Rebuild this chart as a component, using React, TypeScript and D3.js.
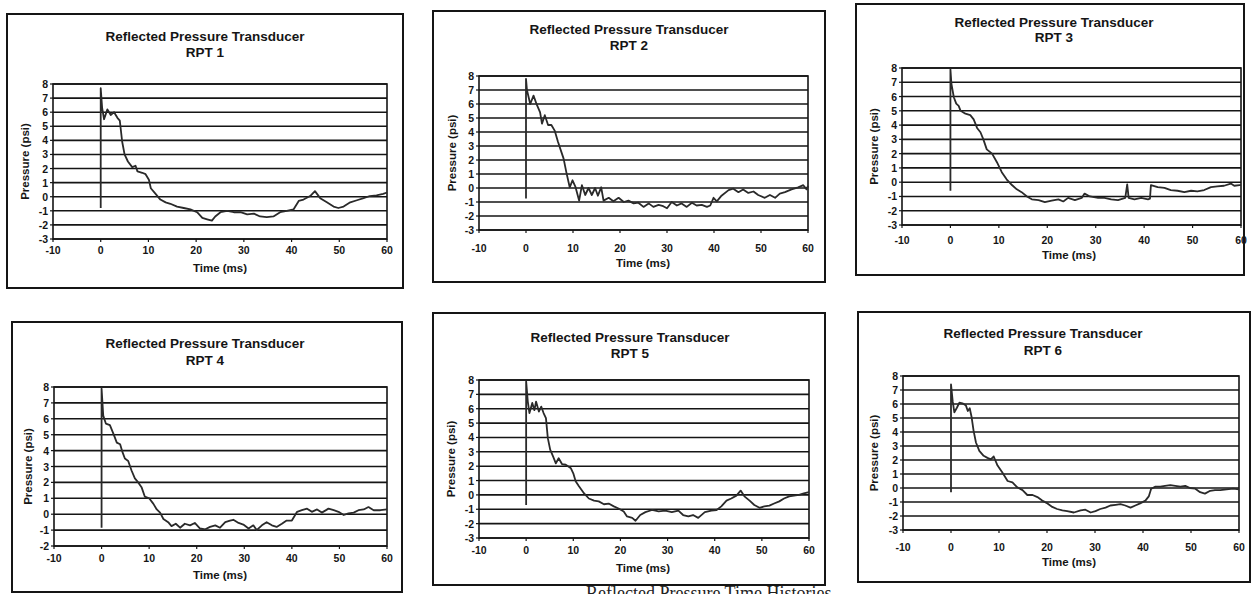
import React from "react";
import * as d3 from "d3";

// ---------- data (time ms, pressure psi) ----------
const xTicks = [-10, 0, 10, 20, 30, 40, 50, 60];
const panelTitles = ["RPT 1", "RPT 2", "RPT 3", "RPT 4", "RPT 5", "RPT 6"];
const yMins = [-3, -3, -3, -2, -3, -3];
const yMax = 8;

const rpt1: [number, number][] = [
  [0, -0.8], [0, 7.7], [0.3, 6.3], [0.7, 5.5], [1.4, 6.2], [2.1, 5.8], [2.8, 6.0], [3.5, 5.6], [4.0, 5.4],
  [4.5, 3.9], [5.0, 3.0], [5.7, 2.5], [6.6, 2.1], [7.3, 2.2], [7.7, 1.8], [8.7, 1.7], [9.4, 1.6], [10.1, 1.2],
  [10.5, 0.6], [11.5, 0.2], [12.5, -0.2], [13.6, -0.4], [14.6, -0.5], [16.0, -0.7], [17.4, -0.8], [18.8, -0.9],
  [20.2, -1.1], [21.3, -1.5], [22.3, -1.6], [23.3, -1.7], [24.0, -1.4], [25.1, -1.1], [26.5, -1.0], [27.9, -1.1],
  [29.3, -1.1], [30.7, -1.25], [32.1, -1.2], [33.4, -1.4], [34.8, -1.45], [36.2, -1.4], [37.6, -1.1], [39.0, -1.0],
  [40.4, -0.9], [41.5, -0.3], [42.5, -0.2], [43.9, 0.05], [44.9, 0.4], [46.0, -0.1], [47.4, -0.4], [48.8, -0.7],
  [49.8, -0.8], [50.9, -0.7], [52.3, -0.4], [53.7, -0.25], [55.1, -0.1], [56.4, 0.05], [57.8, 0.1], [59.2, 0.2], [60, 0.3],
];

const rpt2: [number, number][] = [
  [0, -0.75], [0, 7.8], [0.2, 7.0], [0.9, 6.0], [1.6, 6.6], [2.3, 5.95], [3.0, 5.4], [3.4, 4.6], [4.0, 5.2],
  [4.7, 4.5], [5.4, 4.5], [6.1, 4.1], [6.8, 3.3], [7.5, 2.6], [8.0, 2.1], [8.6, 1.1], [9.3, 0.05], [9.9, 0.55],
  [10.5, 0.1], [11.3, -0.9], [11.9, 0.2], [12.6, -0.5], [13.3, 0], [14.0, -0.5], [14.7, 0], [15.3, -0.55],
  [16.0, 0.05], [16.5, -0.9], [17.6, -0.7], [18.6, -0.95], [19.7, -0.7], [20.8, -1.0], [21.8, -0.9], [22.9, -1.1],
  [23.9, -1.05], [25.0, -1.35], [26.1, -1.1], [27.1, -1.35], [28.2, -1.2], [29.2, -1.3], [30.0, -1.45], [31.0, -1.0],
  [32.1, -1.25], [33.1, -1.1], [34.2, -1.35], [35.3, -1.05], [36.3, -1.25], [37.4, -1.2], [38.5, -1.35], [39.2, -1.25],
  [39.9, -0.7], [40.6, -0.95], [41.6, -0.55], [43.1, -0.15], [44.1, -0.05], [45.2, -0.3], [46.2, -0.1], [47.3, -0.35],
  [48.4, -0.25], [49.4, -0.5], [50.8, -0.7], [51.9, -0.5], [53.0, -0.7], [54.0, -0.4], [55.1, -0.3], [56.5, -0.1],
  [57.9, 0.05], [59.0, 0.2], [59.7, -0.1], [60, 0.15],
];

const rpt3: [number, number][] = [
  [0, -0.6], [0, 7.9], [0.2, 6.9], [0.7, 5.95], [1.2, 5.5], [1.7, 5.35], [2.1, 5.0], [3.1, 4.8], [4.1, 4.7],
  [4.8, 4.4], [5.5, 3.8], [6.2, 3.5], [6.8, 3.0], [7.5, 2.3], [8.6, 2.0], [9.6, 1.4], [10.6, 0.7], [11.6, 0.2],
  [12.7, -0.2], [13.7, -0.5], [14.7, -0.7], [15.8, -1.0], [16.8, -1.2], [18.2, -1.25], [19.5, -1.4], [20.9, -1.3],
  [22.3, -1.2], [23.3, -1.35], [24.3, -1.1], [25.7, -1.25], [27.1, -1.1], [27.7, -0.8], [28.8, -1.0], [30.5, -1.1],
  [31.8, -1.1], [33.2, -1.2], [34.6, -1.25], [36.1, -1.1], [36.5, -0.15], [36.8, -1.1], [38.0, -1.2], [39.4, -1.1],
  [40.8, -1.2], [41.2, -1.15], [41.4, -0.2], [42.8, -0.35], [44.2, -0.4], [45.5, -0.55], [46.9, -0.6], [48.3, -0.7],
  [49.7, -0.6], [51.0, -0.65], [52.4, -0.55], [53.8, -0.35], [55.1, -0.3], [56.5, -0.25], [57.9, -0.1], [58.6, -0.25],
  [59.7, -0.2], [60, -0.2],
];

const rpt4: [number, number][] = [
  [0, -0.85], [0, 7.9], [0.35, 6.2], [0.9, 5.7], [1.75, 5.6], [2.5, 5.05], [3.2, 4.5], [3.9, 4.4], [4.4, 3.9],
  [4.9, 3.5], [5.6, 3.35], [6.3, 2.75], [7.0, 2.25], [7.7, 2.0], [8.4, 1.7], [9.1, 1.1], [10.0, 1.0], [10.9, 0.65],
  [11.6, 0.3], [12.3, 0.1], [13.0, -0.3], [14.0, -0.5], [14.7, -0.75], [15.6, -0.6], [16.5, -0.85], [17.5, -0.6],
  [18.6, -0.7], [19.6, -0.55], [20.7, -0.9], [21.8, -0.95], [22.8, -0.8], [23.9, -0.7], [24.9, -0.85], [26.0, -0.5],
  [27.0, -0.4], [27.7, -0.35], [28.8, -0.55], [29.8, -0.65], [30.9, -0.9], [31.9, -0.7], [32.6, -1.0], [33.7, -0.7],
  [34.7, -0.5], [35.8, -0.7], [36.8, -0.8], [37.9, -0.6], [38.9, -0.4], [40.0, -0.4], [41.1, 0.15], [42.1, 0.25],
  [43.2, 0.35], [44.2, 0.15], [45.3, 0.3], [46.3, 0.1], [47.7, 0.35], [48.8, 0.25], [49.8, 0.15], [50.9, -0.05],
  [51.9, 0.05], [53.0, 0.1], [54.0, 0.25], [55.1, 0.3], [56.1, 0.45], [57.2, 0.25], [58.6, 0.25], [60, 0.3],
];

const rpt5: [number, number][] = [
  [0, -0.7], [0, 7.9], [0.35, 6.5], [0.7, 5.7], [1.3, 6.4], [1.75, 5.9], [2.1, 6.5], [2.7, 5.8], [3.2, 6.15],
  [3.7, 5.7], [4.2, 5.35], [4.6, 3.95], [5.1, 3.15], [5.75, 2.65], [6.3, 2.2], [6.9, 2.55], [7.6, 2.15], [8.4, 2.1],
  [9.5, 1.85], [10.0, 1.5], [10.5, 0.95], [11.2, 0.6], [12.3, 0.1], [13.3, -0.25], [14.4, -0.4], [15.4, -0.45],
  [16.5, -0.65], [17.5, -0.6], [18.6, -0.8], [19.6, -0.95], [20.7, -1.15], [21.4, -1.5], [22.5, -1.6], [23.2, -1.8],
  [24.2, -1.4], [25.3, -1.2], [26.7, -1.05], [28.1, -1.15], [29.5, -1.1], [30.9, -1.2], [32.3, -1.1], [33.3, -1.4],
  [34.4, -1.5], [35.4, -1.4], [36.5, -1.6], [37.9, -1.2], [39.3, -1.1], [40.4, -1.05], [41.4, -0.8], [42.5, -0.4],
  [43.5, -0.25], [44.6, -0.05], [45.5, 0.3], [46.3, -0.1], [47.4, -0.4], [48.4, -0.7], [49.5, -0.9], [50.5, -0.8],
  [51.6, -0.75], [52.6, -0.6], [53.7, -0.45], [54.7, -0.25], [55.8, -0.1], [56.8, -0.05], [57.9, 0], [58.9, 0.1], [60, 0.2],
];

const rpt6: [number, number][] = [
  [0, -0.3], [0, 7.4], [0.35, 6.2], [0.7, 5.4], [1.25, 5.75], [1.75, 6.1], [2.4, 6.05], [3.1, 5.9], [3.5, 5.5],
  [3.9, 5.7], [4.3, 5.05], [4.7, 4.1], [5.2, 3.25], [5.9, 2.65], [6.8, 2.3], [7.6, 2.15], [8.3, 2.05], [8.9, 2.25],
  [9.7, 1.6], [10.7, 1.1], [11.8, 0.5], [12.8, 0.4], [13.8, 0.05], [14.9, -0.15], [15.9, -0.5], [17.0, -0.5],
  [18.0, -0.65], [19.0, -0.9], [20.1, -1.1], [21.1, -1.35], [22.1, -1.5], [23.2, -1.6], [24.2, -1.65], [25.6, -1.75],
  [27.0, -1.6], [28.0, -1.55], [29.1, -1.75], [30.1, -1.65], [31.1, -1.5], [32.2, -1.4], [33.2, -1.25], [34.3, -1.2],
  [35.3, -1.15], [36.3, -1.25], [37.4, -1.4], [38.4, -1.25], [39.4, -1.1], [40.5, -0.9], [41.2, -0.6], [41.7, -0.05],
  [42.6, 0.1], [43.6, 0.1], [44.6, 0.15], [45.7, 0.2], [46.7, 0.15], [47.8, 0.1], [48.8, 0.15], [49.8, 0], [50.9, -0.05],
  [51.9, -0.3], [52.9, -0.4], [54.0, -0.2], [55.0, -0.15], [56.1, -0.15], [57.4, -0.1], [58.8, -0.05], [60, -0.1],
];

const seriesList = [rpt1, rpt2, rpt3, rpt4, rpt5, rpt6];

// ---------- layout ----------
type Layout = {
  frame: [number, number, number, number];
  plot: [number, number, number, number];
  titleX: number;
  titleY: [number, number];
  xLabelX: number;
  xLabelY: number;
  yLabelX: number;
  xTickY: number;
};

const layouts: Layout[] = [
  { frame: [7, 14, 403, 288], plot: [53, 84, 387, 239], titleX: 205, titleY: [36, 52], xLabelX: 220, xLabelY: 268, yLabelX: 25, xTickY: 250 },
  { frame: [433, 11, 825, 282], plot: [479, 76, 808, 230], titleX: 629, titleY: [29, 45], xLabelX: 643, xLabelY: 263, yLabelX: 452, xTickY: 248 },
  { frame: [856, 4, 1244, 275], plot: [902, 68, 1241, 225], titleX: 1054, titleY: [22, 37], xLabelX: 1069, xLabelY: 255, yLabelX: 874, xTickY: 240 },
  { frame: [12, 322, 402, 592], plot: [54, 387, 387, 546], titleX: 205, titleY: [343, 360], xLabelX: 220, xLabelY: 575, yLabelX: 28, xTickY: 558 },
  { frame: [433, 313, 825, 585], plot: [479, 380, 809, 538], titleX: 630, titleY: [337, 353], xLabelX: 643, xLabelY: 568, yLabelX: 451, xTickY: 550 },
  { frame: [858, 312, 1250, 582], plot: [903, 376, 1239, 530], titleX: 1043, titleY: [333, 350], xLabelX: 1069, xLabelY: 562, yLabelX: 874, xTickY: 547 },
];

const FONT = "'Liberation Sans', Arial, Helvetica, sans-serif";
const INK = "#151515";

function Panel({ lay, title, data, yMin }: { lay: Layout; title: string; data: [number, number][]; yMin: number }) {
  const [px0, py0, px1, py1] = lay.plot;
  const x = d3.scaleLinear().domain([-10, 60]).range([px0, px1]);
  const y = d3.scaleLinear().domain([yMin, yMax]).range([py1, py0]);
  const yTicks = d3.range(yMin, yMax + 1);
  const line = d3
    .line<[number, number]>()
    .x((d) => x(d[0]))
    .y((d) => y(d[1]));
  const [fx0, fy0, fx1, fy1] = lay.frame;
  return (
    <g>
      <rect x={fx0} y={fy0} width={fx1 - fx0} height={fy1 - fy0} fill="none" stroke={INK} strokeWidth={2} />
      <text x={lay.titleX} y={lay.titleY[0]} textAnchor="middle" dominantBaseline="central" fontFamily={FONT} fontWeight="bold" fontSize={13.5} fill={INK}>
        Reflected Pressure Transducer
      </text>
      <text x={lay.titleX} y={lay.titleY[1]} textAnchor="middle" dominantBaseline="central" fontFamily={FONT} fontWeight="bold" fontSize={13.5} fill={INK}>
        {title}
      </text>
      {yTicks.map((v) => (
        <line key={"g" + v} x1={px0} x2={px1} y1={y(v)} y2={y(v)} stroke={INK} strokeWidth={1.6} />
      ))}
      <rect x={px0} y={py0} width={px1 - px0} height={py1 - py0} fill="none" stroke={INK} strokeWidth={1.6} />
      {yTicks.map((v) => (
        <g key={"yt" + v}>
          <line x1={px0 - 3} x2={px0} y1={y(v)} y2={y(v)} stroke={INK} strokeWidth={1.2} />
          <text x={px0 - 5} y={y(v)} textAnchor="end" dominantBaseline="central" fontFamily={FONT} fontWeight="bold" fontSize={10.5} fill={INK}>
            {v}
          </text>
        </g>
      ))}
      {xTicks.map((v) => (
        <g key={"xt" + v}>
          <line x1={x(v)} x2={x(v)} y1={py1} y2={py1 + 3} stroke={INK} strokeWidth={1.2} />
          <text x={x(v)} y={lay.xTickY} textAnchor="middle" dominantBaseline="central" fontFamily={FONT} fontWeight="bold" fontSize={10.5} fill={INK}>
            {v}
          </text>
        </g>
      ))}
      <text x={lay.xLabelX} y={lay.xLabelY} textAnchor="middle" dominantBaseline="central" fontFamily={FONT} fontWeight="bold" fontSize={11.5} fill={INK}>
        Time (ms)
      </text>
      <text
        transform={`translate(${lay.yLabelX},${(py0 + py1) / 2}) rotate(-90)`}
        textAnchor="middle"
        dominantBaseline="central"
        fontFamily={FONT}
        fontWeight="bold"
        fontSize={11.5}
        fill={INK}
      >
        Pressure (psi)
      </text>
      <path d={line(data) || ""} fill="none" stroke="#2a2a2a" strokeWidth={1.8} strokeLinejoin="round" />
    </g>
  );
}

export default function App() {
  return (
    <svg width={1252} height={594} style={{ position: "absolute", left: 0, top: 0, background: "#ffffff" }}>
      <rect x={0} y={0} width={1252} height={594} fill="#ffffff" />
      {layouts.map((lay, i) => (
        <Panel key={i} lay={lay} title={panelTitles[i]} data={seriesList[i]} yMin={yMins[i]} />
      ))}
      <text x={586} y={599} fontFamily="'Liberation Serif', 'Times New Roman', serif" fontSize={18} fill="#222">
        Reflected Pressure Time Histories
      </text>
    </svg>
  );
}
